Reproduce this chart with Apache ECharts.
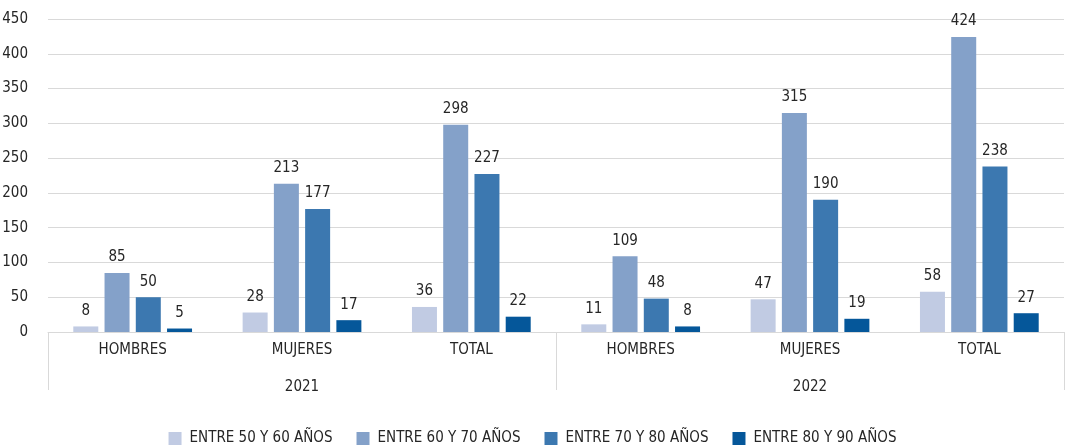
<!DOCTYPE html>
<html>
<head>
<meta charset="utf-8">
<script src="https://cdn.jsdelivr.net/npm/echarts@6/dist/echarts.min.js"></script>
<style>
  html, body { margin: 0; padding: 0; background: #fff; }
  #chart { width: 1065px; height: 448px; }
</style>
</head>
<body>
<div id="chart"></div>
<script>
// Grupos (sexo) dentro de cada año
const groups = ['HOMBRES', 'MUJERES', 'TOTAL', 'HOMBRES', 'MUJERES', 'TOTAL'];
const years = ['2021', '2022'];

// Tramos de edad
const seriesNames = ['ENTRE 50 Y 60 AÑOS', 'ENTRE 60 Y 70 AÑOS', 'ENTRE 70 Y 80 AÑOS', 'ENTRE 80 Y 90 AÑOS'];
const age50to60 = [8, 28, 36, 11, 47, 58];
const age60to70 = [85, 213, 298, 109, 315, 424];
const age70to80 = [50, 177, 227, 48, 190, 238];
const age80to90 = [5, 17, 22, 8, 19, 27];

const colors = ['#c1cbe3', '#84a1c9', '#3c78b0', '#05579a'];
const FONT = '"DejaVu Sans Condensed", "Liberation Sans Narrow", "Roboto", sans-serif';
const TEXT = '#262626';
const FS = 15;

const chart = echarts.init(document.getElementById('chart'));

const values = [age50to60, age60to70, age70to80, age80to90];
const series = values.map((data, i) => ({
  name: seriesNames[i],
  type: 'bar',
  data: data,
  barWidth: 25,
  barGap: '25%',
  itemStyle: { color: colors[i] },
  label: {
    show: true,
    position: 'top',
    distance: 8,
    color: TEXT,
    fontFamily: FONT,
    fontSize: FS
  }
}));

chart.setOption({
  animation: false,
  textStyle: { fontFamily: FONT },
  grid: { left: 48, right: 1, top: 19, bottom: 116, containLabel: false, outerBoundsMode: 'none' },
  legend: {
    top: 431,
    left: 'center',
    padding: 0,
    itemWidth: 13,
    itemHeight: 13,
    itemGap: 24,
    icon: 'rect',
    textStyle: { color: TEXT, fontFamily: FONT, fontSize: FS, padding: [0, 0, 0, 3] },
    data: seriesNames
  },
  xAxis: [
    {
      type: 'category',
      data: groups,
      position: 'bottom',
      axisLine: { show: true, lineStyle: { color: '#d9d9d9', width: 1 } },
      axisTick: { show: false },
      axisLabel: { color: TEXT, fontFamily: FONT, fontSize: FS, margin: 11 }
    },
    {
      type: 'category',
      data: years,
      position: 'bottom',
      axisLine: { show: false },
      axisTick: { show: true, length: 58, lineStyle: { color: '#d9d9d9', width: 1 } },
      axisLabel: { color: TEXT, fontFamily: FONT, fontSize: FS, margin: 48 }
    }
  ],
  yAxis: {
    type: 'value',
    min: 0,
    max: 450,
    interval: 50,
    axisLine: { show: false },
    axisTick: { show: false },
    splitLine: { lineStyle: { color: '#d9d9d9', width: 1 } },
    axisLabel: { color: TEXT, fontFamily: FONT, fontSize: FS, margin: 20 }
  },
  series: series
});
</script>
</body>
</html>
